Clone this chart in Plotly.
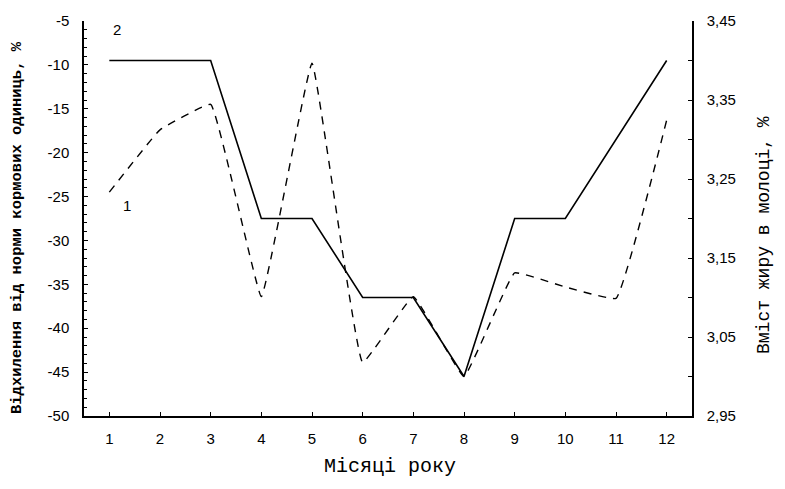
import plotly.graph_objects as go

months = [1, 2, 3, 4, 5, 6, 7, 8, 9, 10, 11, 12]
month_labels = ["1", "2", "3", "4", "5", "6", "7", "8", "9", "10", "11", "12"]
deviation = [-24.5, -17.4, -14.5, -36.4, -9.8, -43.9, -36.4, -45.5, -33.7, -35.3, -36.6, -16.3]
fat = [3.40, 3.40, 3.40, 3.20, 3.20, 3.10, 3.10, 3.00, 3.20, 3.20, 3.30, 3.40]
left_ticks = [-5, -10, -15, -20, -25, -30, -35, -40, -45, -50]
left_ticktext = ["-5", "-10", "-15", "-20", "-25", "-30", "-35", "-40", "-45", "-50"]
right_ticks = [3.45, 3.35, 3.25, 3.15, 3.05, 2.95]
right_ticktext = ["3,45", "3,35", "3,25", "3,15", "3,05", "2,95"]

x_title = "Місяці року"
left_title = "Відхилення від норми кормових одиниць, %"
right_title = "Вміст жиру в молоці, %"

# the page body adds an 8px offset; figure sized so the plot lands where the reference has it
OFF = 8
W, H = 769, 473
ML, MR, MT, MB = 76, 85, 13, 65
pw = W - ML - MR
ph = H - MT - MB

def px(xpix):
    return (xpix - OFF - ML) / pw

def py(ypix):
    return (H - MB - (ypix - OFF)) / ph

fig = go.Figure()
fig.add_trace(go.Scatter(
    x=months, y=deviation, mode="lines", yaxis="y",
    line=dict(color="black", width=1.4, dash="8px,7px", shape="spline", smoothing=0.25),
    showlegend=False, hoverinfo="skip"))
fig.add_trace(go.Scatter(
    x=months, y=fat, mode="lines", yaxis="y2",
    line=dict(color="black", width=1.6),
    showlegend=False, hoverinfo="skip"))

tickfont = dict(family="Liberation Sans, Arial, sans-serif", size=15, color="black")
mono = "Liberation Mono, Courier New, monospace"

fig.update_layout(
    width=W, height=H,
    margin=dict(l=ML, r=MR, t=MT, b=MB, autoexpand=False),
    paper_bgcolor="white", plot_bgcolor="white",
    xaxis=dict(range=[0.5, 12.5], tickvals=months, ticktext=month_labels,
               showline=True, linecolor="black", linewidth=1.5, mirror=False,
               ticks="inside", ticklen=4, tickcolor="black", tickwidth=1,
               showgrid=False, zeroline=False, tickfont=tickfont,
               ticklabelstandoff=8, automargin=False),
    yaxis=dict(range=[-50, -5], tickvals=left_ticks, ticktext=left_ticktext,
               showline=True, linecolor="black", linewidth=1.5,
               ticks="inside", ticklen=4, tickcolor="black", tickwidth=1,
               minor=dict(dtick=1, tick0=-50, ticks="inside", ticklen=3, tickcolor="black"),
               showgrid=False, zeroline=False, tickfont=tickfont,
               ticklabelstandoff=10, automargin=False),
    yaxis2=dict(range=[2.95, 3.45], tickvals=right_ticks, ticktext=right_ticktext,
                overlaying="y", side="right",
                showline=True, linecolor="black", linewidth=1.5,
                ticks="inside", ticklen=4, tickcolor="black", tickwidth=1,
                minor=dict(dtick=0.05, tick0=2.95, ticks="inside", ticklen=4, tickcolor="black"),
                showgrid=False, zeroline=False, tickfont=tickfont,
                ticklabelstandoff=10, automargin=False),
    annotations=[
        dict(text="2", x=1.15, y=-6.0, xref="x", yref="y", showarrow=False,
             font=dict(family="Liberation Sans, Arial, sans-serif", size=15, color="black")),
        dict(text="1", x=1.35, y=-26.0, xref="x", yref="y", showarrow=False,
             font=dict(family="Liberation Sans, Arial, sans-serif", size=15, color="black")),
        dict(text=x_title, x=px(390), y=py(466), xref="paper", yref="paper", showarrow=False,
             xanchor="center", yanchor="middle",
             font=dict(family=mono, size=20, color="black")),
        dict(text="<b>" + left_title + "</b>", x=px(17), y=py(228), xref="paper", yref="paper",
             showarrow=False, textangle=-90, xanchor="center", yanchor="middle",
             font=dict(family=mono, size=15.5, color="black")),
        dict(text=right_title, x=px(764), y=py(235), xref="paper", yref="paper",
             showarrow=False, textangle=-90, xanchor="center", yanchor="middle",
             font=dict(family=mono, size=18, color="black")),
    ],
)

fig.write_html("out.html")
